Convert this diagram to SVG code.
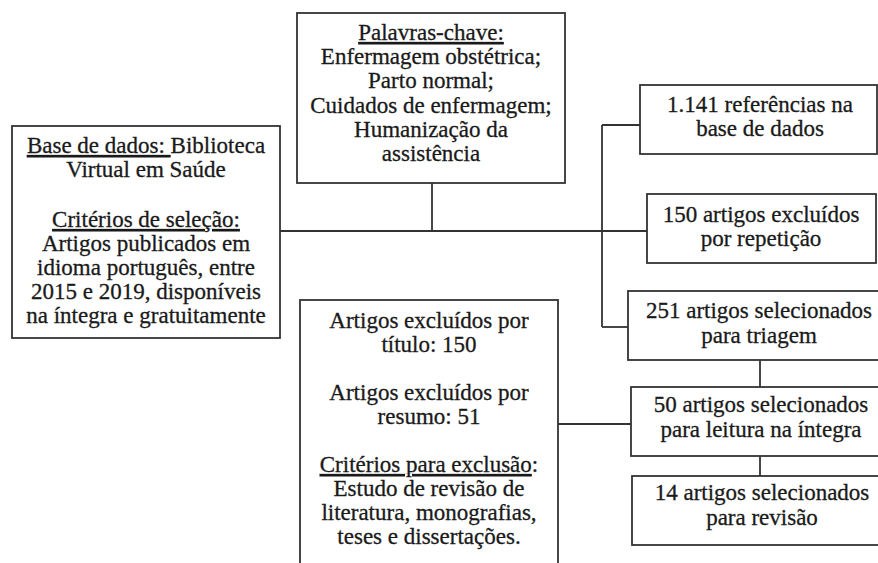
<svg xmlns="http://www.w3.org/2000/svg" width="878" height="563" viewBox="0 0 878 563">
<style>
.box{fill:#fff;stroke:#333;stroke-width:1.8}
.conn line{stroke:#333;stroke-width:1.8}
text{font-family:'Liberation Serif','Times New Roman',serif;font-size:23px;fill:#1a1a1a;stroke:#1a1a1a;stroke-width:0.3px;text-anchor:middle}
.u{text-decoration:underline}
</style>
<rect width="878" height="563" fill="#fff"/>
<g id="connectors" class="conn">
<line x1="432" y1="183" x2="432" y2="231"/>
<line x1="280" y1="231" x2="647" y2="231"/>
<line x1="602" y1="125" x2="602" y2="327"/>
<line x1="602" y1="125" x2="640" y2="125"/>
<line x1="602" y1="327" x2="628" y2="327"/>
<line x1="558" y1="424" x2="631" y2="424"/>
<line x1="760" y1="360" x2="760" y2="387"/>
<line x1="760" y1="456" x2="760" y2="476"/>
</g>
<g id="base">
<rect class="box" x="12" y="126" width="268" height="212"/>
<text x="146" y="153"><tspan class="u">Base de dados: </tspan>Biblioteca</text>
<text x="146" y="177">Virtual em Saúde</text>
<text x="146" y="227" class="u">Critérios de seleção:</text>
<text x="146" y="251">Artigos publicados em</text>
<text x="146" y="275">idioma português, entre</text>
<text x="146" y="299">2015 e 2019, disponíveis</text>
<text x="146" y="323">na íntegra e gratuitamente</text>
</g>
<g id="palavras">
<rect class="box" x="297" y="13" width="268" height="170"/>
<text x="431" y="40" class="u">Palavras-chave:</text>
<text x="431" y="64">Enfermagem obstétrica;</text>
<text x="431" y="88">Parto normal;</text>
<text x="431" y="113">Cuidados de enfermagem;</text>
<text x="431" y="137">Humanização da</text>
<text x="431" y="161">assistência</text>
</g>
<g id="ref1141">
<rect class="box" x="640" y="85" width="237" height="69"/>
<text x="760" y="112">1.141 referências na</text>
<text x="760" y="136">base de dados</text>
</g>
<g id="excl150">
<rect class="box" x="647" y="194" width="229" height="69"/>
<text x="761" y="222">150 artigos excluídos</text>
<text x="761" y="246">por repetição</text>
</g>
<g id="sel251">
<rect class="box" x="628" y="291" width="262" height="69"/>
<text x="759" y="318">251 artigos selecionados</text>
<text x="759" y="343">para triagem</text>
</g>
<g id="sel50">
<rect class="box" x="631" y="387" width="259" height="69"/>
<text x="761" y="412">50 artigos selecionados</text>
<text x="761" y="437">para leitura na íntegra</text>
</g>
<g id="sel14">
<rect class="box" x="632" y="476" width="258" height="69"/>
<text x="762" y="500">14 artigos selecionados</text>
<text x="762" y="525">para revisão</text>
</g>
<g id="excluidos">
<rect class="box" x="300" y="300" width="258" height="275"/>
<text x="429" y="328">Artigos excluídos por</text>
<text x="429" y="352">título: 150</text>
<text x="429" y="400">Artigos excluídos por</text>
<text x="429" y="424">resumo: 51</text>
<text x="429" y="472"><tspan class="u">Critérios para exclusão</tspan>:</text>
<text x="429" y="496">Estudo de revisão de</text>
<text x="429" y="520">literatura, monografias,</text>
<text x="429" y="544">teses e dissertações.</text>
</g>
</svg>
